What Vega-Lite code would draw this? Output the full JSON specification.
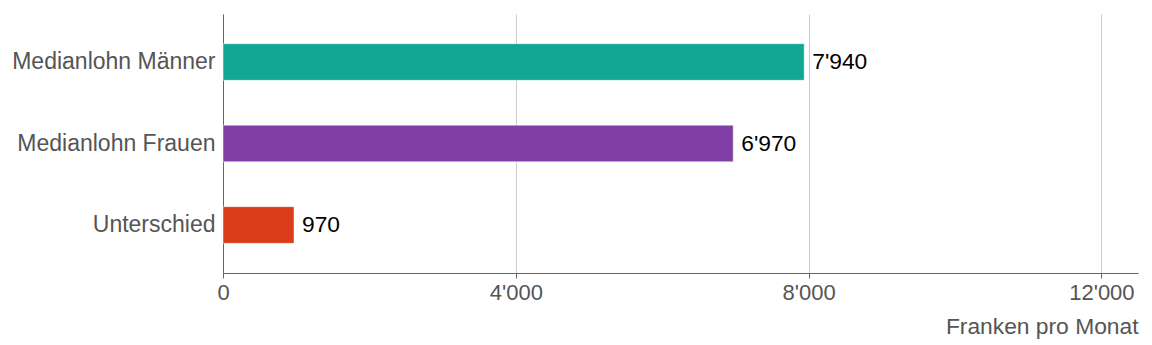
{
  "$schema": "https://vega.github.io/schema/vega-lite/v6.json",
  "autosize": {"type": "none"},
  "width": 915,
  "height": 259,
  "padding": {"left": 223, "top": 14, "right": 14, "bottom": 72},
  "background": "white",
  "config": {
    "locale": {"number": {"decimal": ".", "thousands": "'", "grouping": [3], "currency": ["", ""]}},
    "view": {"stroke": null},
    "font": "Liberation Sans"
  },
  "data": {
    "values": [
      {"kategorie": "Medianlohn Männer", "wert": 7940, "farbe": "#10a794"},
      {"kategorie": "Medianlohn Frauen", "wert": 6970, "farbe": "#7f3fa6"},
      {"kategorie": "Unterschied", "wert": 970, "farbe": "#d93b1b"}
    ]
  },
  "encoding": {
    "y": {
      "field": "kategorie",
      "type": "nominal",
      "sort": null,
      "scale": {"paddingInner": 0.55, "paddingOuter": 0.364},
      "axis": {
        "title": null,
        "ticks": false,
        "labelFontSize": 23,
        "labelColor": "#555555",
        "labelPadding": 8,
        "labelLimit": 400,
        "domainColor": "#666666",
        "domainWidth": 1
      }
    },
    "x": {
      "field": "wert",
      "type": "quantitative",
      "scale": {"domain": [0, 12500], "nice": false},
      "axis": {
        "values": [0, 4000, 8000, 12000],
        "format": ",d",
        "title": "Franken pro Monat",
        "titleFontSize": 22.8,
        "titleFontWeight": "normal",
        "titleColor": "#555555",
        "titleAnchor": "end",
        "titleAlign": "right",
        "titleX": 915,
        "titleY": 60,
        "titleBaseline": "alphabetic",
        "labelFontSize": 22,
        "labelColor": "#555555",
        "labelPadding": 4,
        "tickSize": 5,
        "tickColor": "#666666",
        "domainColor": "#666666",
        "gridColor": "#cccccc",
        "grid": true,
        "labelFlush": false
      }
    }
  },
  "layer": [
    {
      "mark": {"type": "bar", "stroke": "white", "strokeOpacity": 0.5, "strokeWidth": 1},
      "encoding": {
        "color": {"field": "farbe", "type": "nominal", "scale": null}
      }
    },
    {
      "mark": {"type": "text", "align": "left", "baseline": "middle", "dx": 8, "fontSize": 22.8, "color": "#000000"},
      "encoding": {
        "text": {"field": "wert", "type": "quantitative", "format": ",d"}
      }
    }
  ]
}
